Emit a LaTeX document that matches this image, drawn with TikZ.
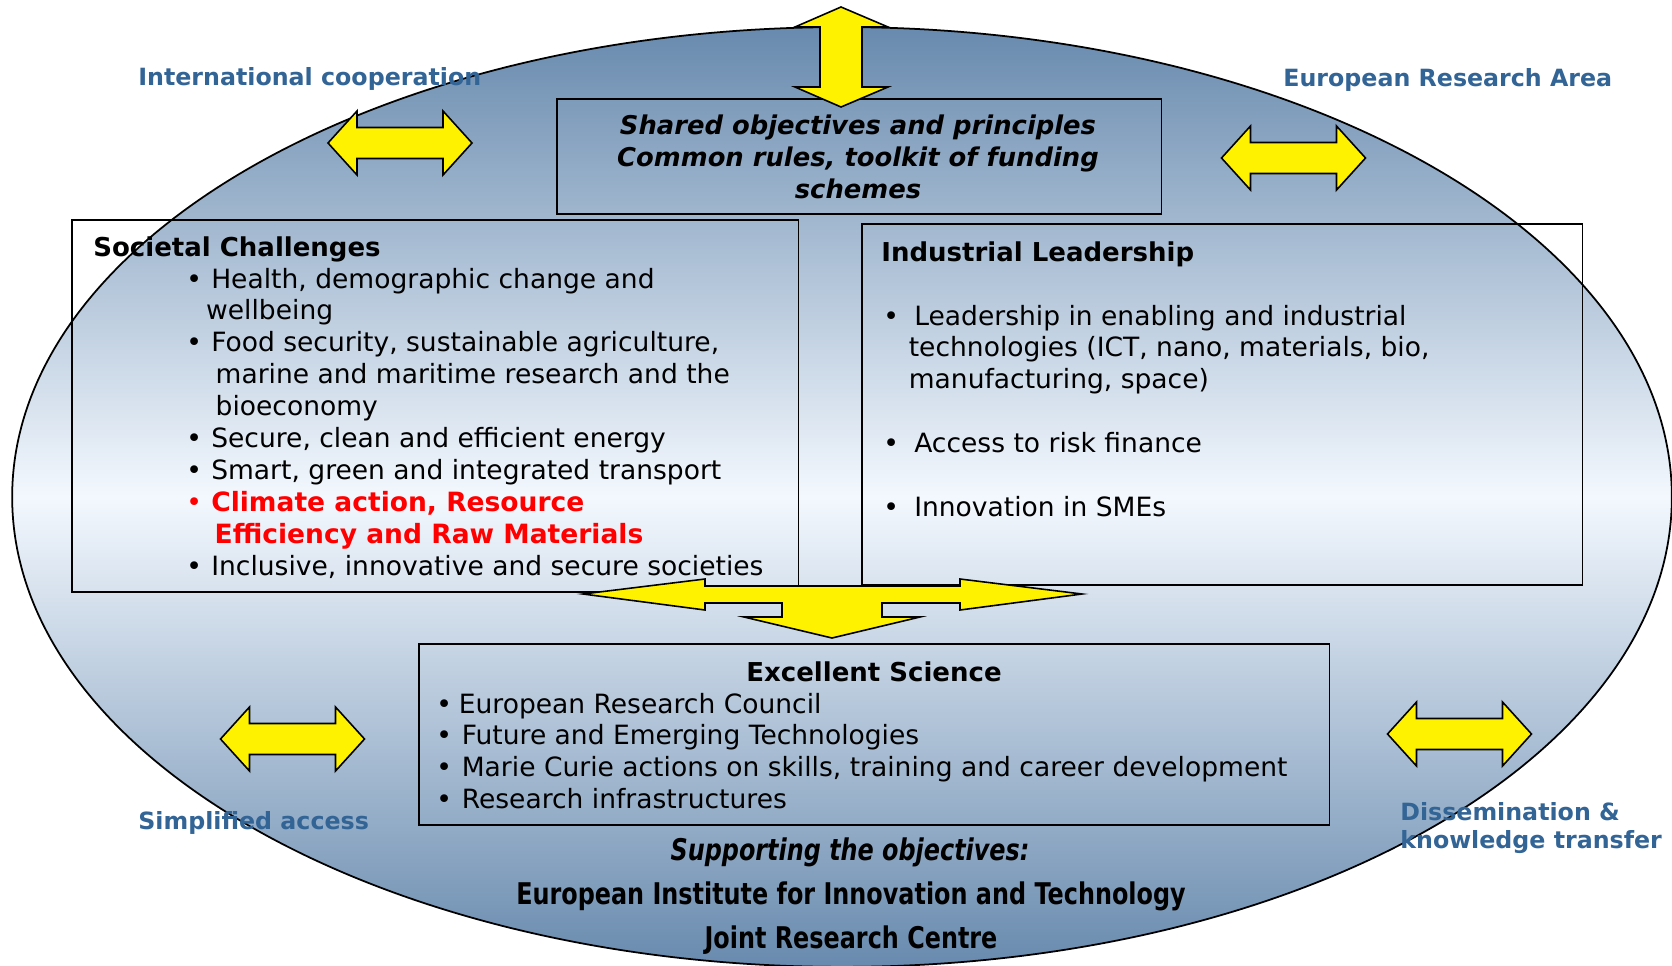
\documentclass[tikz,border=0pt]{standalone}
\usepackage{fontspec}
\setmainfont{DejaVu Sans}
\newfontfamily\condfont[FakeStretch=0.8]{DejaVu Sans}
\usepackage{tikz}
\usetikzlibrary{positioning, shapes.geometric}
\definecolor{oval_dark}{RGB}{104,138,174}
\definecolor{oval_light}{RGB}{243,248,254}
\definecolor{label_blue}{RGB}{50,100,150}
\tikzstyle{block} = [rectangle, draw=black, line width=0.9pt, inner sep=0pt, anchor=north west]
\tikzstyle{yarrow} = [draw=black, fill=yellow, line width=0.9pt]
\tikzstyle{txt} = [inner sep=0pt, anchor=base west]
\tikzstyle{side} = [txt, text=label_blue, font=\fontsize{13.5pt}{16pt}\selectfont\bfseries]
\newcommand{\bodyfont}{\fontsize{15.1pt}{18.2pt}\selectfont}
\newcommand{\headfont}{\fontsize{14.8pt}{18.2pt}\selectfont\bfseries}
\newcommand{\footfont}{\condfont\fontsize{17pt}{20pt}\selectfont\bfseries}
\newcommand{\twoway}[1]{\draw[yarrow, shift={(#1)}] (-72,0) -- (-43,-32) -- (-43,-15.5) -- (43,-15.5) -- (43,-32) -- (72,0) -- (43,32) -- (43,15.5) -- (-43,15.5) -- (-43,32) -- cycle;}

\begin{document}
\begin{tikzpicture}[x=0.02cm, y=-0.02cm]
    \useasboundingbox (0,0) rectangle (1672,966);
    \node (oval) [ellipse, draw=black, line width=1pt, minimum width=33.2cm, minimum height=18.8cm, inner sep=0pt, top color=oval_dark, bottom color=oval_dark, middle color=oval_light] at (842,497) {};
    % boxes
    \node (shared) [block, minimum width=12.1cm, minimum height=2.3cm] at (556,98) {};
    \node (societal) [block, minimum width=14.54cm, minimum height=7.44cm] at (71,219) {};
    \node (industrial) [block, minimum width=14.42cm, minimum height=7.22cm] at (861,223) {};
    \node (excellent) [block, minimum width=18.22cm, minimum height=3.62cm] at (418,643) {};
    % yellow arrows
    \draw [yarrow] (841,7) -- (888,27) -- (862,27) -- (862,87) -- (888,87) -- (841,107) -- (795,87) -- (820,87) -- (820,27) -- (795,27) -- cycle;
    \draw [yarrow] (583,594) -- (705,579) -- (705,586) -- (960,586) -- (960,579) -- (1082,594) -- (960,610) -- (960,603) -- (882,603) -- (882,617) -- (920,617) -- (832,638) -- (744,617) -- (782,617) -- (782,603) -- (705,603) -- (705,610) -- cycle;
    \coordinate (intl) at (400,143);
    \coordinate (erea) at (1293.5,158);
    \coordinate (simple) at (292.5,739);
    \coordinate (dissem) at (1459.5,734);
    \twoway{intl}
    \twoway{erea}
    \twoway{simple}
    \twoway{dissem}
    % box texts
    \node (sharedtxt) [inner sep=0pt, anchor=base, font=\fontsize{14.7pt}{18.2pt}\selectfont\bfseries\itshape] at (858,135) {\begin{tabular}[t]{@{}c@{}}Shared objectives and principles\\ Common rules, toolkit of funding\\ schemes\end{tabular}};
    \node (soctitle) [txt, font=\headfont] at (93,256) {Societal Challenges};
    \node (soclist) [txt, font=\bodyfont] at (186,288) {\begin{tabular}[t]{@{}p{14.2pt}@{}l@{}}
        \textbullet & Health, demographic change and\\
         & \hspace*{-2.9pt}wellbeing\\
        \textbullet & Food security, sustainable agriculture,\\
         & \hspace*{2.5pt}marine and maritime research and the\\
         & \hspace*{2.5pt}bioeconomy\\
        \textbullet & Secure, clean and efficient energy\\
        \textbullet & Smart, green and integrated transport\\
        \textcolor{red}{\textbullet} & \textcolor{red}{\bfseries Climate action, Resource}\\
         & \hspace*{1.9pt}\textcolor{red}{\bfseries Efficiency and Raw Materials}\\
        \textbullet & Inclusive, innovative and secure societies
        \end{tabular}};
    \node (indtitle) [txt, font=\headfont] at (881,261) {Industrial Leadership};
    \node (indlist) [txt, font=\bodyfont] at (883,325) {\begin{tabular}[t]{@{}p{17.6pt}@{}l@{}}
        \textbullet & Leadership in enabling and industrial\\
         & \hspace*{-3.1pt}technologies (ICT, nano, materials, bio,\\
         & \hspace*{-3.1pt}manufacturing, space)\\
         & \\
        \textbullet & Access to risk finance\\
         & \\
        \textbullet & Innovation in SMEs
        \end{tabular}};
    \node (exctitle) [inner sep=0pt, anchor=base, font=\headfont] at (874,681) {Excellent Science};
    \node (exclist) [txt, font=\bodyfont] at (436,713) {\begin{tabular}[t]{@{}p{14.5pt}@{}l@{}}
        \textbullet & \hspace*{-1.7pt}European Research Council\\
        \textbullet & Future and Emerging Technologies\\
        \textbullet & Marie Curie actions on skills, training and career development\\
        \textbullet & Research infrastructures
        \end{tabular}};
    % supporting lines
    \node (support) [inner sep=0pt, anchor=base, font=\footfont\itshape] at (850,860) {Supporting the objectives:};
    \node (eit) [inner sep=0pt, anchor=base, font=\footfont] at (851,904) {European Institute for Innovation and Technology};
    \node (jrc) [inner sep=0pt, anchor=base, font=\footfont] at (851,948) {Joint Research Centre};
    % outer labels
    \node (intltxt) [side] at (138,86) {International cooperation};
    \node (eratxt) [side] at (1283,87) {European Research Area};
    \node (simpletxt) [side] at (138,829) {Simplified access};
    \node (dissemtxt) [side] at (1400,820) {Dissemination \&};
    \node (knowtxt) [side] at (1400,848) {knowledge transfer};
\end{tikzpicture}
\end{document}
